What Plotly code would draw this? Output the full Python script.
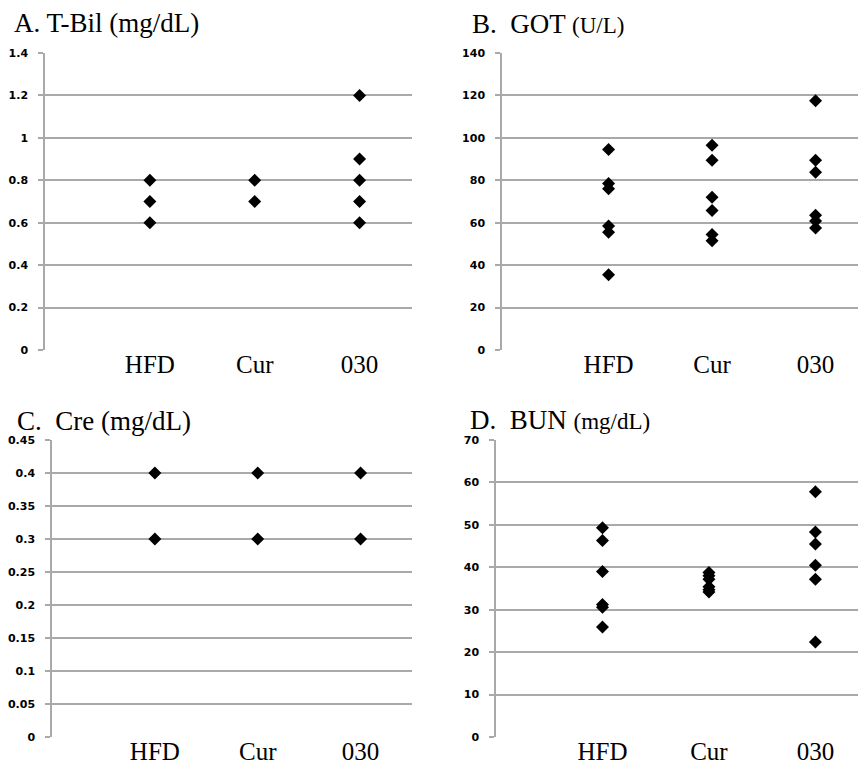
import plotly.graph_objects as go

# ---------------- data ----------------
groups = ["HFD", "Cur", "030"]

tbil_hfd = [0.8, 0.7, 0.6]
tbil_cur = [0.8, 0.7]
tbil_030 = [1.2, 0.9, 0.8, 0.7, 0.6]

got_hfd = [94.5, 78.5, 76, 58.5, 55.5, 35.5]
got_cur = [96.5, 89.5, 72, 65.8, 54.5, 51.5]
got_030 = [117.5, 89.5, 83.8, 63.5, 60.8, 57.5]

cre_hfd = [0.4, 0.3]
cre_cur = [0.4, 0.3]
cre_030 = [0.4, 0.3]

bun_hfd = [49.3, 46.3, 39, 31.2, 30.6, 25.9]
bun_cur = [38.8, 38.0, 37.2, 35.4, 34.7, 34.2]
bun_030 = [57.8, 48.3, 45.5, 40.5, 37.2, 22.4]

tbil_ticks = [0, 0.2, 0.4, 0.6, 0.8, 1, 1.2, 1.4]
got_ticks = [0, 20, 40, 60, 80, 100, 120, 140]
cre_ticks = [0, 0.05, 0.1, 0.15, 0.2, 0.25, 0.3, 0.35, 0.4, 0.45]
bun_ticks = [0, 10, 20, 30, 40, 50, 60, 70]

titles = [
    "A. T-Bil (mg/dL)",
    "B.  GOT <span style='font-size:23px'>(U/L)</span>",
    "C.  Cre (mg/dL)",
    "D.  BUN <span style='font-size:23px'>(mg/dL)</span>",
]

# ---------------- layout geometry (pixels) ----------------
W, H = 858, 763

def xd(a, b):
    return [a / W, min(b / W, 1.0)]

def yd(top, bottom):
    return [1 - bottom / H, 1 - top / H]

panels = [
    dict(data=[tbil_hfd, tbil_cur, tbil_030], ticks=tbil_ticks, ymax=1.4,
         xdom=xd(45, 412), ydom=yd(53, 350), xr=[0, 3.5],
         title=titles[0], tx=12, ty=23),
    dict(data=[got_hfd, got_cur, got_030], ticks=got_ticks, ymax=140,
         xdom=xd(502, 858), ydom=yd(53, 350), xr=[-0.03, 3.41],
         title=titles[1], tx=470, ty=24),
    dict(data=[cre_hfd, cre_cur, cre_030], ticks=cre_ticks, ymax=0.45,
         xdom=xd(52, 412), ydom=yd(440, 737), xr=[0, 3.5],
         title=titles[2], tx=15, ty=421),
    dict(data=[bun_hfd, bun_cur, bun_030], ticks=bun_ticks, ymax=70,
         xdom=xd(496, 858), ydom=yd(440, 737), xr=[0, 3.4],
         title=titles[3], tx=468, ty=420),
]

fig = go.Figure()
layout = dict(
    width=W, height=H, autosize=False,
    margin=dict(l=0, r=0, t=0, b=0, pad=0, autoexpand=False),
    paper_bgcolor="white", plot_bgcolor="white",
    showlegend=False,
    annotations=[],
)

for i, p in enumerate(panels, start=1):
    xa = "x" if i == 1 else f"x{i}"
    ya = "y" if i == 1 else f"y{i}"
    for gi, vals in enumerate(p["data"]):
        fig.add_trace(go.Scatter(
            x=[gi + 1] * len(vals), y=vals, mode="markers",
            marker=dict(symbol="diamond", size=10, color="black"),
            xaxis=xa, yaxis=ya, hoverinfo="y", cliponaxis=False,
        ))
    key = "" if i == 1 else str(i)
    layout["xaxis" + key] = dict(
        domain=p["xdom"], anchor=ya, range=p["xr"],
        tickvals=[1, 2, 3], ticktext=groups,
        tickfont=dict(family="Liberation Serif", size=25, color="black"),
        showgrid=False, zeroline=False, showline=False, ticks="",
        ticklabelstandoff=-3,
        automargin=False, fixedrange=True,
    )
    layout["yaxis" + key] = dict(
        domain=p["ydom"], anchor=xa, range=[0, p["ymax"]],
        tickvals=p["ticks"],
        ticktext=[f"{t:g}" for t in p["ticks"]],
        tickfont=dict(family="DejaVu Sans", size=11, color="black", weight="bold"),
        showgrid=True, gridcolor="#a9a9a9", gridwidth=1.5,
        zeroline=False, showline=True, linecolor="#a9a9a9", linewidth=1.5,
        ticks="outside", ticklen=5, tickcolor="#a9a9a9", tickwidth=1.5,
        ticklabelstandoff=8, automargin=False, fixedrange=True,
    )
    layout["annotations"].append(dict(
        text=p["title"], xref="paper", yref="paper",
        x=p["tx"] / W, y=1 - p["ty"] / H, xanchor="left", yanchor="middle",
        showarrow=False,
        font=dict(family="Liberation Serif", size=27, color="black"),
    ))

fig.update_layout(**layout)
fig.write_html(
    "out.html",
    config={"displayModeBar": False},
    post_script="document.body.style.margin='0px';document.body.style.overflow='hidden';",
)
